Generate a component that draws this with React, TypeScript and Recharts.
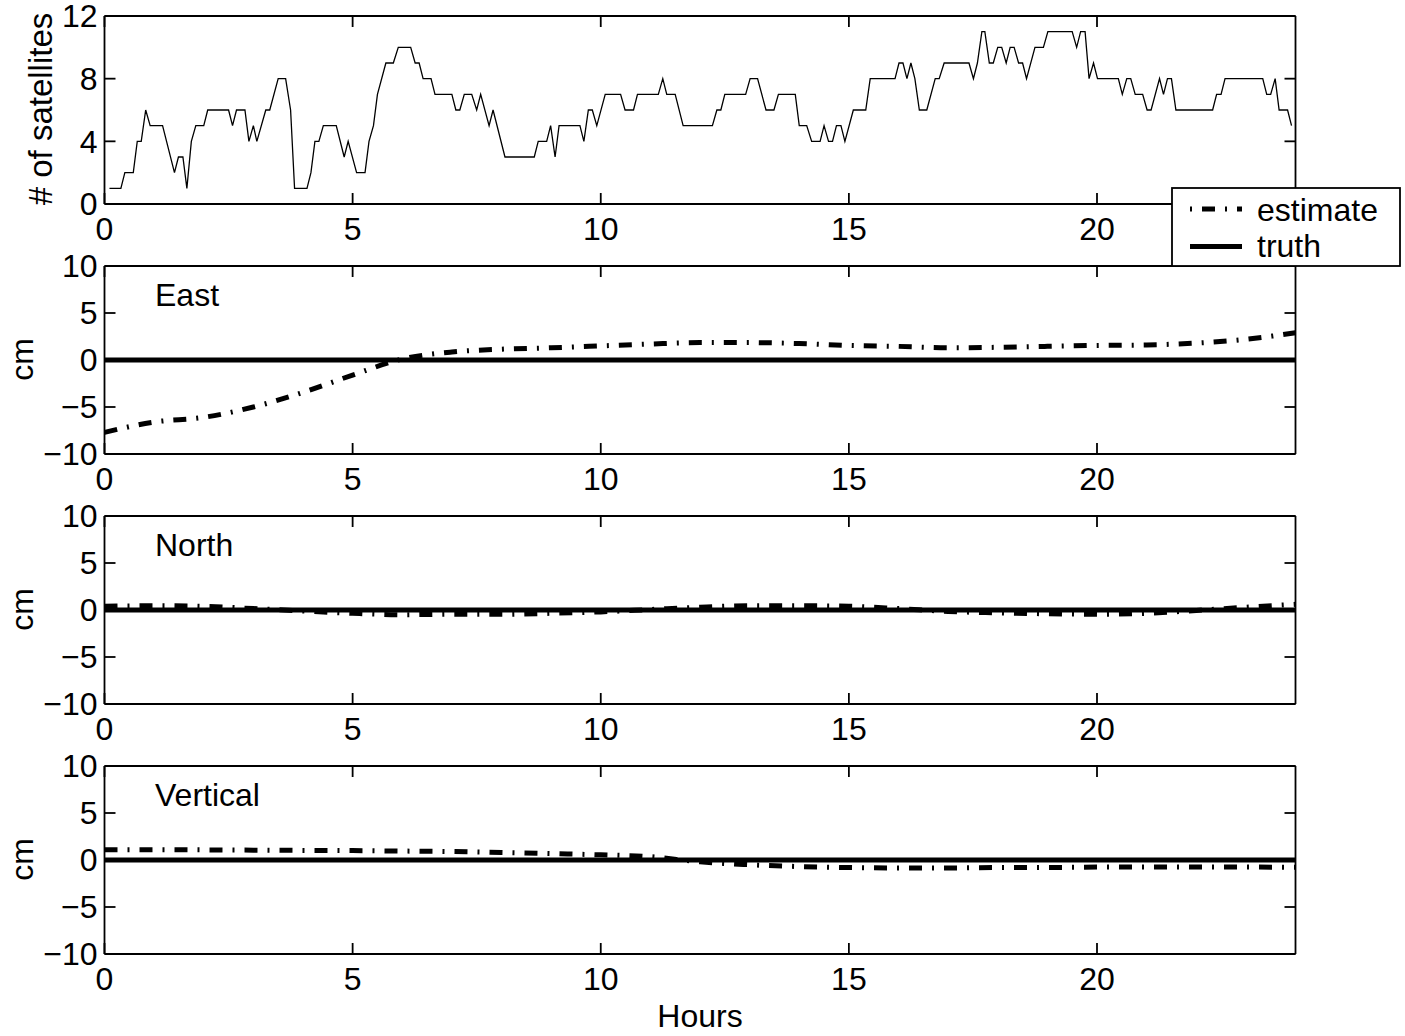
import { LineChart, Line, XAxis, YAxis } from "recharts";

// satellite count: step changes (hour, count)
const SAT_HOURS = [
  0.1, 0.33, 0.41, 0.58, 0.66, 0.74, 0.83, 0.92, 1.17, 1.41, 1.49, 1.58, 1.66, 1.75, 1.84, 2.0,
  2.08, 2.5, 2.58, 2.66, 2.83, 2.91, 3.0, 3.07, 3.25, 3.33, 3.5, 3.65, 3.75, 3.83, 4.08, 4.16,
  4.24, 4.32, 4.41, 4.67, 4.83, 4.91, 5.08, 5.25, 5.33, 5.42, 5.5, 5.67, 5.82, 5.92, 6.17, 6.26,
  6.34, 6.42, 6.58, 6.66, 7.0, 7.08, 7.16, 7.25, 7.4, 7.5, 7.58, 7.75, 7.83, 8.07, 8.66, 8.74,
  8.91, 8.99, 9.08, 9.16, 9.58, 9.66, 9.75, 9.83, 9.92, 10.09, 10.4, 10.49, 10.66, 10.74, 11.16,
  11.25, 11.33, 11.5, 11.66, 12.25, 12.34, 12.42, 12.5, 12.92, 13.01, 13.16, 13.33, 13.49, 13.58,
  13.92, 14.0, 14.15, 14.25, 14.42, 14.5, 14.59, 14.67, 14.75, 14.84, 14.92, 15.09, 15.34, 15.43,
  15.93, 16.01, 16.09, 16.17, 16.25, 16.33, 16.42, 16.57, 16.74, 16.82, 16.92, 17.42, 17.51,
  17.59, 17.68, 17.74, 17.83, 17.91, 18.0, 18.08, 18.17, 18.25, 18.33, 18.42, 18.5, 18.58, 18.75,
  18.92, 19.01, 19.5, 19.59, 19.67, 19.76, 19.84, 19.93, 20.01, 20.43, 20.51, 20.6, 20.68, 20.77,
  20.92, 21.01, 21.09, 21.26, 21.34, 21.42, 21.5, 21.59, 22.33, 22.41, 22.5, 22.58, 23.34, 23.42,
  23.5, 23.59, 23.67, 23.84, 23.92,
];
const SAT_COUNT = [
  1, 1, 2, 2, 4, 4, 6, 5, 5, 2, 3, 3, 1, 4, 5, 5,
  6, 6, 5, 6, 6, 4, 5, 4, 6, 6, 8, 8, 6, 1, 1, 2,
  4, 4, 5, 5, 3, 4, 2, 2, 4, 5, 7, 9, 9, 10, 10, 9,
  9, 8, 8, 7, 7, 6, 6, 7, 7, 6, 7, 5, 6, 3, 3, 4,
  4, 5, 3, 5, 5, 4, 6, 6, 5, 7, 7, 6, 6, 7, 7,
  8, 7, 7, 5, 5, 6, 6, 7, 7, 8, 8, 6, 6, 7,
  7, 5, 5, 4, 4, 5, 4, 4, 5, 5, 4, 6, 6, 8,
  8, 9, 9, 8, 9, 8, 6, 6, 8, 8, 9, 9, 8,
  9, 11, 11, 9, 9, 10, 10, 9, 10, 10, 9, 9, 8, 10,
  10, 11, 11, 10, 11, 11, 8, 9, 8, 8, 7, 8, 8, 7,
  7, 6, 6, 8, 7, 8, 8, 6, 6, 7, 7, 8, 8, 7,
  7, 8, 6, 6, 5,
];

// position error estimates, cm, one per hour
const HOURS = [0, 1, 2, 3, 4, 5, 6, 7, 8, 9, 10, 11, 12, 13, 14, 15, 16, 17, 18, 19, 20, 21, 22, 23, 24];
const EAST_EST = [-7.7, -6.6, -6.1, -5.0, -3.45, -1.6, 0.1, 0.85, 1.15, 1.3, 1.5, 1.7, 1.85, 1.85, 1.75, 1.55, 1.45, 1.3, 1.35, 1.45, 1.55, 1.6, 1.8, 2.2, 2.9];
const NORTH_EST = [0.4, 0.45, 0.4, 0.15, -0.1, -0.35, -0.5, -0.45, -0.45, -0.35, -0.2, 0.05, 0.3, 0.45, 0.45, 0.4, 0.15, -0.15, -0.3, -0.4, -0.45, -0.35, -0.05, 0.3, 0.6];
const VERT_EST = [1.1, 1.1, 1.08, 1.05, 1.02, 1.0, 0.95, 0.9, 0.8, 0.68, 0.55, 0.35, -0.2, -0.5, -0.7, -0.8, -0.85, -0.85, -0.8, -0.8, -0.75, -0.75, -0.75, -0.75, -0.78];
const TRUTH = [0, 0, 0, 0, 0, 0, 0, 0, 0, 0, 0, 0, 0, 0, 0, 0, 0, 0, 0, 0, 0, 0, 0, 0, 0];

const X_TICKS = [0, 5, 10, 15, 20];
const SAT_TICKS = [0, 4, 8, 12];
const CM_TICKS = [-10, -5, 0, 5, 10];

const satData = SAT_HOURS.map((h, i) => ({ h, n: SAT_COUNT[i] }));
const errData = (est: number[]) => HOURS.map((h, i) => ({ h, est: est[i], truth: TRUTH[i] }));

const W = 1405;
const PLOT_LEFT = 104.5;
const PLOT_RIGHT = 1295.5;
const PLOT_H = 188;
const M_TOP = 25;
const X_AXIS_H = 45;
const Y_AXIS_W = 60;
const FONT = '"Liberation Sans", Arial, Helvetica, sans-serif';
const FS = 32;
const DASH = "13 10 2 10";

const fmt = (v: number) => (v < 0 ? `\u2212${-v}` : `${v}`);
const NoTick = () => null;

type PanelProps = {
  top: number;
  data: object[];
  domain: [number, number];
  ticks: number[];
  children: React.ReactNode;
};

function Panel({ top, data, domain, ticks, children }: PanelProps) {
  const tickStyle = { fill: "#000", fontSize: FS, fontFamily: FONT };
  const axis = { stroke: "#000", strokeWidth: 1.8 };
  return (
    <div style={{ position: "absolute", left: 0, top: top - M_TOP }}>
      <LineChart
        width={W}
        height={M_TOP + PLOT_H + X_AXIS_H}
        data={data}
        margin={{ top: M_TOP - 1, right: W - PLOT_RIGHT - 1, bottom: 0, left: PLOT_LEFT - Y_AXIS_W }}
      >
        <XAxis
          dataKey="h"
          type="number"
          domain={[0, 24]}
          ticks={X_TICKS}
          allowDataOverflow
          height={X_AXIS_H}
          axisLine={axis}
          tickLine={axis}
          tickSize={-11}
          tickMargin={24}
          tick={tickStyle}
        />
        <XAxis
          xAxisId="t"
          orientation="top"
          dataKey="h"
          type="number"
          domain={[0, 24]}
          ticks={X_TICKS}
          allowDataOverflow
          height={1}
          axisLine={axis}
          tickLine={axis}
          tickSize={-11}
          tick={NoTick}
        />
        <YAxis
          type="number"
          domain={domain}
          ticks={ticks}
          allowDataOverflow
          width={Y_AXIS_W}
          axisLine={axis}
          tickLine={axis}
          tickSize={-11}
          tickMargin={18}
          tick={tickStyle}
          tickFormatter={fmt}
        />
        <YAxis
          yAxisId="r"
          orientation="right"
          type="number"
          domain={domain}
          ticks={ticks}
          allowDataOverflow
          width={1}
          axisLine={axis}
          tickLine={axis}
          tickSize={-11}
          tick={NoTick}
        />
        {children}
      </LineChart>
    </div>
  );
}

function ErrLines() {
  return [
    <Line
      key="est"
      dataKey="est"
      type="monotone"
      stroke="#000"
      strokeWidth={5}
      strokeDasharray={DASH}
      strokeLinecap="butt"
      dot={false}
      activeDot={false}
      isAnimationActive={false}
    />,
    <Line
      key="truth"
      dataKey="truth"
      type="linear"
      stroke="#000"
      strokeWidth={5}
      dot={false}
      activeDot={false}
      isAnimationActive={false}
    />,
  ];
}

const PANEL_TOPS = [15.5, 265.5, 515.5, 765.5];
const PANEL_NAMES = ["East", "North", "Vertical"];

export default function App() {
  return (
    <div
      style={{
        position: "absolute",
        left: 0,
        top: 0,
        width: W,
        height: 1036,
        background: "#fff",
        fontFamily: FONT,
      }}
    >
      <Panel top={PANEL_TOPS[0]} data={satData} domain={[0, 12]} ticks={SAT_TICKS}>
        <Line
          dataKey="n"
          type="linear"
          stroke="#000"
          strokeWidth={1.3}
          dot={false}
          activeDot={false}
          isAnimationActive={false}
        />
      </Panel>
      <Panel top={PANEL_TOPS[1]} data={errData(EAST_EST)} domain={[-10, 10]} ticks={CM_TICKS}>
        {ErrLines()}
      </Panel>
      <Panel top={PANEL_TOPS[2]} data={errData(NORTH_EST)} domain={[-10, 10]} ticks={CM_TICKS}>
        {ErrLines()}
      </Panel>
      <Panel top={PANEL_TOPS[3]} data={errData(VERT_EST)} domain={[-10, 10]} ticks={CM_TICKS}>
        {ErrLines()}
      </Panel>

      <svg
        width={W}
        height={1036}
        style={{ position: "absolute", left: 0, top: 0, pointerEvents: "none" }}
        fontFamily={FONT}
        fontSize={FS}
      >
        <text
          x={40}
          y={109}
          transform="rotate(-90 40 109)"
          textAnchor="middle"
          dominantBaseline="central"
          fontSize={33}
        >
          # of satellites
        </text>
        {PANEL_NAMES.map((name, i) => {
          const mid = PANEL_TOPS[i + 1] + PLOT_H / 2;
          return (
            <g key={name}>
              <text
                x={22}
                y={mid}
                transform={`rotate(-90 22 ${mid})`}
                textAnchor="middle"
                dominantBaseline="central"
              >
                cm
              </text>
              <text x={155} y={PANEL_TOPS[i + 1] + 29} dominantBaseline="central">
                {name}
              </text>
            </g>
          );
        })}
        <text x={(PLOT_LEFT + PLOT_RIGHT) / 2} y={1016} textAnchor="middle" dominantBaseline="central">
          Hours
        </text>

        <g>
          <rect x={1172} y={188} width={228} height={78} fill="#fff" stroke="#000" strokeWidth={1.8} />
          <line
            x1={1190}
            x2={1242}
            y1={209}
            y2={209}
            stroke="#000"
            strokeWidth={5}
            strokeDasharray={DASH}
            strokeDashoffset={23}
          />
          <text x={1257} y={210} dominantBaseline="central">
            estimate
          </text>
          <line x1={1190} x2={1242} y1={246.5} y2={246.5} stroke="#000" strokeWidth={5} />
          <text x={1257} y={246} dominantBaseline="central">
            truth
          </text>
        </g>
      </svg>
    </div>
  );
}
